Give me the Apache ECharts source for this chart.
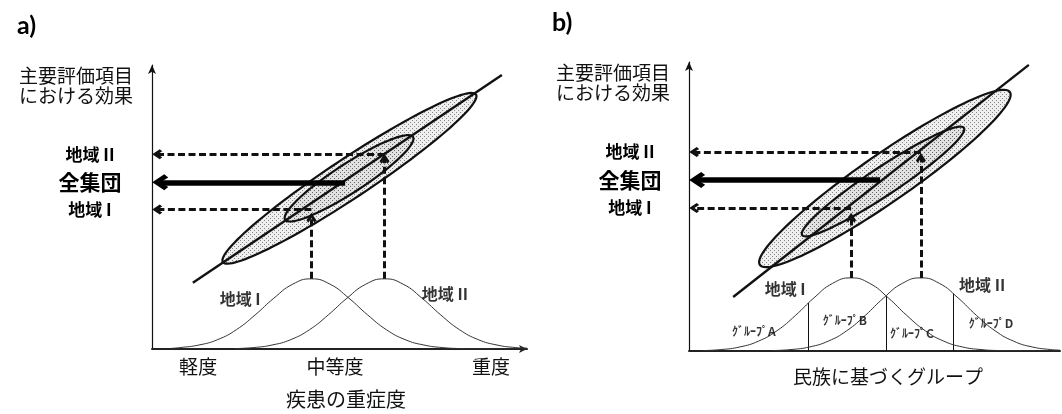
<!DOCTYPE html>
<html><head><meta charset="utf-8">
<script src="https://cdn.jsdelivr.net/npm/echarts@6/dist/echarts.min.js"></script>
<style>html,body{margin:0;padding:0;background:#fff}#c{width:1062px;height:414px}</style>
</head><body><div id="c"></div>
<script>
const FONT = '"Noto Sans CJK JP", "Noto Sans", sans-serif';

// ---------- Panel a : disease severity ----------
const aXTicks = [12.3, 48.8, 90.4];
const aXTickLabels = ['軽度', '中等度', '重度'];
const aYTicks = [68.6, 58.7, 49.1];
const aYTickLabels = ['地域 II', '全集団', '地域 I'];
const aDiagonal = [[10.9, 23.3], [93.3, 96.5]];
// ellipse: [tip1 x, tip1 y, tip2 x, tip2 y, minor/major ratio]
const aEllipses = [[18.9, 30.6, 86.4, 89.6, 0.13], [35.5, 45.5, 69.6, 74.7, 0.19]];
const aRegion1Curve = [[5, 0.2], [7.5, 0.5], [12.5, 1.4], [17.5, 3.3], [22.5, 6.8], [27.5, 12.0], [32.5, 17.9], [37.5, 22.8], [42.5, 24.7], [47.5, 22.8], [52.5, 17.9], [57.5, 12.0], [62.5, 6.8], [67.5, 3.3], [72.5, 1.4], [77.5, 0.5], [82.5, 0.15], [87.5, 0.05], [92.5, 0], [97.5, 0]];
const aRegion2Curve = [[22, 0.15], [27, 0.5], [32, 1.4], [37, 3.3], [42, 6.8], [47, 12.0], [52, 17.9], [57, 22.8], [62, 24.7], [67, 22.8], [72, 17.9], [77, 12.0], [82, 6.8], [87, 3.3], [92, 1.4], [97, 0.5], [100, 0.3]];
const aDashedArrows = [[[62, 68.6], [1.4, 68.6]], [[42.5, 49.1], [1.4, 49.1]], [[42.5, 24.7], [42.5, 46.2]], [[62, 24.7], [62, 67.0]]];
const aThickArrow = [[51.5, 58.7], [2.2, 58.7]];
const aRegionLabels = [[23.5, 17.7, '地域 I'], [78.1, 19.4, '地域 II']];

// ---------- Panel b : ethnic groups ----------
const bYTicks = [68.9, 59.2, 49.5];
const bYTickLabels = ['地域 II', '全集団', '地域 I'];
const bDiagonal = [[11.9, 18.7], [91.6, 99.0]];
const bEllipses = [[19.1, 29.8, 86.5, 89.6, 0.158], [30.5, 40.1, 74.1, 77.2, 0.145]];
const bRegion1Curve = [[3.7, 0.15], [8.7, 0.5], [13.7, 1.4], [18.7, 3.4], [23.7, 7.0], [28.7, 12.3], [33.7, 18.4], [38.7, 23.4], [43.7, 25.3], [48.7, 23.4], [53.7, 18.4], [58.7, 12.3], [63.7, 7.0], [68.7, 3.4], [73.7, 1.4], [78.7, 0.5], [83.7, 0.15], [88.7, 0.05], [93.7, 0], [98.7, 0]];
const bRegion2Curve = [[22.5, 0.15], [27.5, 0.5], [32.5, 1.4], [37.5, 3.4], [42.5, 7.0], [47.5, 12.3], [52.5, 18.4], [57.5, 23.4], [62.5, 25.3], [67.5, 23.4], [72.5, 18.4], [77.5, 12.3], [82.5, 7.0], [87.5, 3.4], [92.5, 1.4], [97.5, 0.5], [100, 0.3]];
const bSeparators = [[[32.1, 0], [32.1, 16.6]], [[53.1, 0], [53.1, 19.1]], [[71.2, 0], [71.2, 19.9]]];
const bGroupLabels = [[17.5, 6.6, 'ｸﾞﾙｰﾌﾟA'], [42.0, 10.7, 'ｸﾞﾙｰﾌﾟB'], [60.1, 6.2, 'ｸﾞﾙｰﾌﾟC'], [81.4, 9.7, 'ｸﾞﾙｰﾌﾟD']];
const bDashedArrows = [[[62.5, 68.9], [1.4, 68.9]], [[43.7, 49.5], [1.4, 49.5]], [[43.7, 25.3], [43.7, 46.1]], [[62.5, 25.3], [62.5, 66.8]]];
const bThickArrow = [[51.5, 59.2], [2.2, 59.2]];
const bRegionLabels = [[25.9, 21.5, '地域 I'], [79.0, 22.8, '地域 II']];

const yAxisName = '主要評価項目\nにおける効果';

function makePattern(bg, dot) {
  const c = document.createElement('canvas');
  c.width = 4; c.height = 4;
  const g = c.getContext('2d');
  g.fillStyle = bg; g.fillRect(0, 0, 4, 4);
  g.fillStyle = dot; g.fillRect(0, 0, 1, 1); g.fillRect(2, 2, 1, 1);
  return { image: c, repeat: 'repeat' };
}
const outerFill = makePattern('#efefef', '#858585');
const innerFill = makePattern('#e2e2e2', '#666666');

function ellipseRender(params, api) {
  const p1 = api.coord([api.value(0), api.value(1)]);
  const p2 = api.coord([api.value(2), api.value(3)]);
  const ratio = api.value(4);
  const cx = (p1[0] + p2[0]) / 2, cy = (p1[1] + p2[1]) / 2;
  const dx = (p2[0] - p1[0]) / 2, dy = (p2[1] - p1[1]) / 2;
  const a = Math.hypot(dx, dy), ang = Math.atan2(dy, dx), b = a * ratio;
  const pts = [];
  for (let i = 0; i < 120; i++) {
    const t = i / 120 * 2 * Math.PI;
    const ex = a * Math.cos(t), ey = b * Math.sin(t);
    pts.push([cx + ex * Math.cos(ang) - ey * Math.sin(ang), cy + ex * Math.sin(ang) + ey * Math.cos(ang)]);
  }
  return {
    type: 'polygon', shape: { points: pts },
    style: { fill: params.dataIndex === 0 ? outerFill : innerFill, stroke: '#111', lineWidth: 2.2 }
  };
}

// open chevron, tip at top
const chevron = 'path://M5,0L10,7.5L8,10L5,5.2L2,10L0,7.5Z';

function panelSeries(idx, d) {
  const common = { xAxisIndex: idx, yAxisIndex: idx, silent: true };
  const s = [];
  s.push(Object.assign({ type: 'custom', renderItem: ellipseRender, data: d.ellipses, encode: { x: [0, 2], y: [1, 3] }, z: 1, clip: false }, common));
  s.push(Object.assign({ type: 'line', data: d.diagonal, symbol: 'none', lineStyle: { color: '#111', width: 2.4 }, z: 3 }, common));
  [d.curve1, d.curve2].forEach(c => s.push(Object.assign({ type: 'line', data: c, smooth: true, symbol: 'none', lineStyle: { color: '#333', width: 1 }, z: 3 }, common)));
  s.push(Object.assign({
    type: 'lines', coordinateSystem: 'cartesian2d', data: d.dashed.map(c => ({ coords: c })),
    symbol: ['none', chevron], symbolSize: [12, 10],
    lineStyle: { color: '#111', width: 3, type: [7, 3.5], opacity: 1 }, z: 4
  }, common));
  s.push(Object.assign({
    type: 'lines', coordinateSystem: 'cartesian2d', data: [{ coords: d.thick }],
    symbol: ['none', chevron], symbolSize: [21, 16],
    lineStyle: { color: '#000', width: 5.5, opacity: 1 }, z: 4
  }, common));
  if (d.separators) {
    s.push(Object.assign({
      type: 'lines', coordinateSystem: 'cartesian2d', data: d.separators.map(c => ({ coords: c })),
      symbol: 'none', lineStyle: { color: '#111', width: 1, opacity: 1 }, z: 3
    }, common));
  }
  s.push(Object.assign({
    type: 'scatter', symbolSize: 0, data: d.regionLabels.map(r => ({ value: [r[0], r[1]], name: r[2] })),
    label: { show: true, position: 'inside', formatter: '{b}', color: '#000', fontFamily: FONT, fontSize: 16, fontWeight: 'bold' }, z: 5
  }, common));
  if (d.groupLabels) {
    s.push(Object.assign({
      type: 'scatter', symbolSize: 0, data: d.groupLabels.map(r => ({ value: [r[0], r[1]], name: r[2] })),
      label: { show: true, position: 'inside', formatter: '{b}', color: '#000', fontFamily: FONT, fontSize: 12, fontWeight: 'bold' }, z: 5
    }, common));
  }
  return s;
}

function yAxisFor(idx, ticks, labels, margin) {
  return {
    gridIndex: idx, type: 'value', min: 0, max: 100,
    name: yAxisName, nameLocation: 'end', nameGap: -1,
    nameTextStyle: { fontFamily: FONT, fontSize: 19, lineHeight: 20, color: '#111', align: 'right', verticalAlign: 'top', padding: [0, 19, 0, 0] },
    axisLine: { show: true, symbol: ['none', 'arrow'], symbolSize: [6, 9], lineStyle: { color: '#111', width: 1.2 } },
    axisTick: { show: false }, splitLine: { show: false },
    axisLabel: {
      customValues: ticks, margin: margin, align: 'center',
      formatter: v => { const i = ticks.indexOf(v); const t = labels[i]; return t === '全集団' ? '{b|' + t + '}' : '{s|' + t + '}'; },
      rich: {
        b: { fontFamily: FONT, fontSize: 21, fontWeight: 'bold', color: '#000' },
        s: { fontFamily: FONT, fontSize: 17, fontWeight: 'bold', color: '#000' }
      }
    }
  };
}

const option = {
  animation: false,
  backgroundColor: '#fff',
  title: [
    { text: 'a)', left: 12, top: 8, textStyle: { fontFamily: 'Lato, "Open Sans", sans-serif', fontSize: 25, fontWeight: 'bold', color: '#000' } },
    { text: 'b)', left: 547, top: 5, textStyle: { fontFamily: 'Lato, "Open Sans", sans-serif', fontSize: 25, fontWeight: 'bold', color: '#000' } }
  ],
  grid: [
    { left: 152, top: 65, width: 375, height: 288 },
    { left: 689, top: 62, width: 371, height: 289 }
  ],
  xAxis: [
    {
      gridIndex: 0, type: 'value', min: 0, max: 100,
      name: '疾患の重症度', nameLocation: 'middle', nameGap: 40,
      nameTextStyle: { fontFamily: FONT, fontSize: 20, color: '#111', padding: [0, 0, 0, 13] },
      axisLine: { show: true, symbol: ['none', 'arrow'], symbolSize: [6, 8], lineStyle: { color: '#222', width: 2 } },
      axisTick: { show: false }, splitLine: { show: false },
      axisLabel: {
        customValues: aXTicks, margin: 8, fontFamily: FONT, fontSize: 19, color: '#111',
        formatter: v => aXTickLabels[aXTicks.indexOf(v)]
      }
    },
    {
      gridIndex: 1, type: 'value', min: 0, max: 100,
      name: '民族に基づくグループ', nameLocation: 'middle', nameGap: 16,
      nameTextStyle: { fontFamily: FONT, fontSize: 19, color: '#111', padding: [0, 0, 0, 27] },
      axisLine: { show: true, lineStyle: { color: '#222', width: 2 } },
      axisTick: { show: false }, splitLine: { show: false }, axisLabel: { show: false }
    }
  ],
  yAxis: [yAxisFor(0, aYTicks, aYTickLabels, 62), yAxisFor(1, bYTicks, bYTickLabels, 59)],
  series: [].concat(
    panelSeries(0, { ellipses: aEllipses, diagonal: aDiagonal, curve1: aRegion1Curve, curve2: aRegion2Curve, dashed: aDashedArrows, thick: aThickArrow, regionLabels: aRegionLabels }),
    panelSeries(1, { ellipses: bEllipses, diagonal: bDiagonal, curve1: bRegion1Curve, curve2: bRegion2Curve, dashed: bDashedArrows, thick: bThickArrow, regionLabels: bRegionLabels, separators: bSeparators, groupLabels: bGroupLabels })
  )
};
const chart = echarts.init(document.getElementById('c'));
chart.setOption(option);
</script></body></html>
